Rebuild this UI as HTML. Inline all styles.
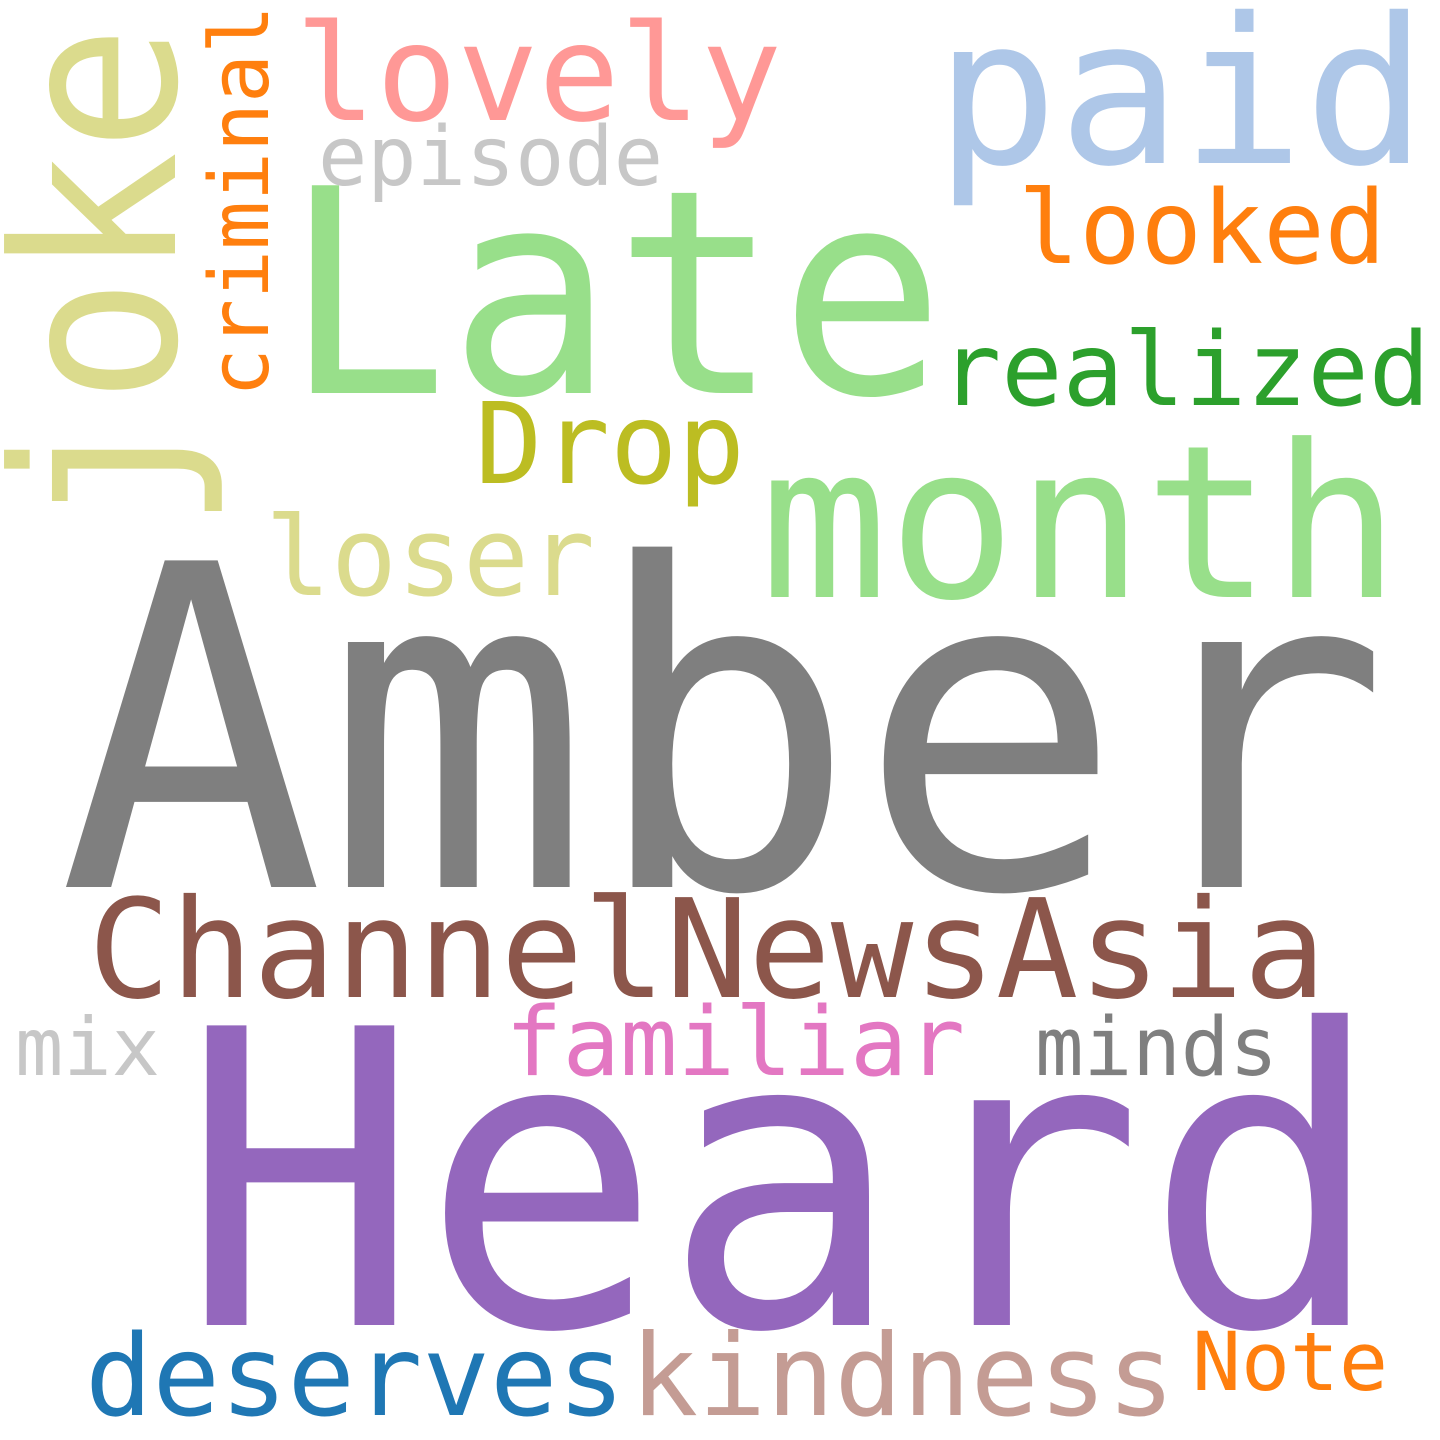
<!DOCTYPE html>
<html>
<head>
<meta charset="utf-8">
<style>
  html,body{margin:0;padding:0;background:#fff;}
  svg{display:block;}
  text{font-family:"DejaVu Sans Mono","Liberation Mono",monospace;}
</style>
</head>
<body>
<svg width="1440" height="1440" viewBox="0 0 1440 1440">
  <rect width="1440" height="1440" fill="#ffffff"/>
  <text x="58" y="887" font-size="448" fill="#7f7f7f" textLength="1332" lengthAdjust="spacingAndGlyphs">Amber</text>
  <text x="180" y="1325" font-size="411" fill="#9467bd" textLength="1205" lengthAdjust="spacingAndGlyphs">Heard</text>
  <text x="283" y="393" font-size="285" fill="#98df8a" textLength="662" lengthAdjust="spacingAndGlyphs">Late</text>
  <text transform="translate(175,530) rotate(-90)" font-size="225" fill="#dbdb8d" textLength="505" lengthAdjust="spacingAndGlyphs">joke</text>
  <text transform="translate(268,397) rotate(-90)" font-size="82" fill="#ff7f0e" textLength="392" lengthAdjust="spacingAndGlyphs">criminal</text>
  <text x="295" y="120" font-size="134" fill="#ff9896" textLength="487" lengthAdjust="spacingAndGlyphs">lovely</text>
  <text x="935" y="163" font-size="203" fill="#aec7e8" textLength="492" lengthAdjust="spacingAndGlyphs">paid</text>
  <text x="318" y="185" font-size="82" fill="#c7c7c7" textLength="345" lengthAdjust="spacingAndGlyphs">episode</text>
  <text x="1018" y="263" font-size="102" fill="#ff7f0e" textLength="368" lengthAdjust="spacingAndGlyphs">looked</text>
  <text x="940" y="405" font-size="102" fill="#2ca02c" textLength="490" lengthAdjust="spacingAndGlyphs">realized</text>
  <text x="475" y="483" font-size="112" fill="#bcbd22" textLength="270" lengthAdjust="spacingAndGlyphs">Drop</text>
  <text x="760" y="597" font-size="213" fill="#98df8a" textLength="640" lengthAdjust="spacingAndGlyphs">month</text>
  <text x="265" y="595" font-size="110" fill="#dbdb8d" textLength="330" lengthAdjust="spacingAndGlyphs">loser</text>
  <text x="88" y="997" font-size="137" fill="#8c564b" textLength="1238" lengthAdjust="spacingAndGlyphs">ChannelNewsAsia</text>
  <text x="15" y="1075" font-size="80" fill="#c7c7c7" textLength="145" lengthAdjust="spacingAndGlyphs">mix</text>
  <text x="505" y="1075" font-size="95" fill="#e377c2" textLength="460" lengthAdjust="spacingAndGlyphs">familiar</text>
  <text x="1035" y="1075" font-size="81" fill="#7f7f7f" textLength="243" lengthAdjust="spacingAndGlyphs">minds</text>
  <text x="85" y="1415" font-size="112" fill="#1f77b4" textLength="540" lengthAdjust="spacingAndGlyphs">deserves</text>
  <text x="630" y="1415" font-size="113" fill="#c49c94" textLength="545" lengthAdjust="spacingAndGlyphs">kindness</text>
  <text x="1192" y="1390" font-size="81" fill="#ff7f0e" textLength="196" lengthAdjust="spacingAndGlyphs">Note</text>
</svg>
</body>
</html>
